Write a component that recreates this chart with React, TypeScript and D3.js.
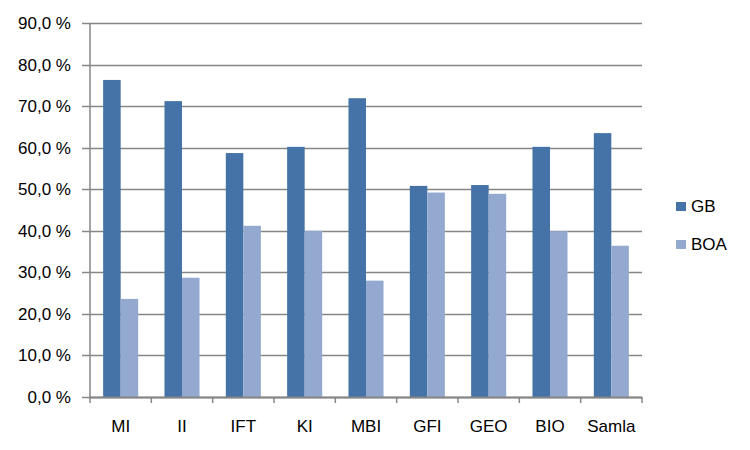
import React from "react";
import * as d3 from "d3";

const categories = ["MI", "II", "IFT", "KI", "MBI", "GFI", "GEO", "BIO", "Samla"];
const seriesNames = ["GB", "BOA"];
const gbValues = [76.3, 71.2, 58.7, 60.2, 71.9, 50.8, 51.0, 60.2, 63.5];
const boaValues = [23.6, 28.7, 41.2, 40.0, 28.0, 49.2, 48.9, 39.9, 36.4];
const yTicks = [0, 10, 20, 30, 40, 50, 60, 70, 80, 90];
const colors = ["#4572A7", "#93A9D0"];

const W = 750;
const H = 450;
const left = 90;
const right = 642;
const top = 23;
const bottom = 397;
const font = "'Liberation Sans', Arial, sans-serif";

export default function App() {
  const x = d3.scaleBand<string>().domain(categories).range([left, right]).paddingInner(0).paddingOuter(0);
  const y = d3.scaleLinear().domain([0, 90]).range([bottom, top]);
  const bw = x.bandwidth();
  const barW = bw / 3.5;
  const groupOffset = (bw - 2 * barW) / 2;
  const series = [gbValues, boaValues];
  const fmt = (v: number) => v.toFixed(1).replace(".", ",") + " %";

  return (
    <svg width={W} height={H} style={{ position: "absolute", left: 0, top: 0, background: "#fff" }}>
      {yTicks.map((t) => (
        <g key={t}>
          <line x1={left - 8} x2={right} y1={Math.round(y(t)) + 0.5} y2={Math.round(y(t)) + 0.5} stroke="#868686" strokeWidth={1.5} />
          <text x={71} y={y(t) + 6} textAnchor="end" fontFamily={font} fontSize={17} fill="#000">
            {fmt(t)}
          </text>
        </g>
      ))}
      {series.map((vals, si) =>
        vals.map((v, i) => (
          <rect
            key={si + "-" + i}
            x={(x(categories[i]) as number) + groupOffset + si * barW}
            y={y(v)}
            width={barW}
            height={bottom - y(v)}
            fill={colors[si]}
          />
        ))
      )}
      <line x1={left} x2={left} y1={top} y2={bottom + 1} stroke="#868686" strokeWidth={1.5} />
      <line x1={left} x2={right} y1={bottom + 0.5} y2={bottom + 0.5} stroke="#868686" strokeWidth={2} />
      {categories.map((c, i) => (
        <line key={"t" + i} x1={x(c) as number} x2={x(c) as number} y1={bottom} y2={bottom + 6} stroke="#868686" strokeWidth={1.5} />
      ))}
      <line x1={right} x2={right} y1={bottom} y2={bottom + 6} stroke="#868686" strokeWidth={1.5} />
      {categories.map((c) => (
        <text key={"l" + c} x={(x(c) as number) + bw / 2} y={432} textAnchor="middle" fontFamily={font} fontSize={17} fill="#000">
          {c}
        </text>
      ))}
      {seriesNames.map((s, i) => (
        <g key={s}>
          <rect x={676} y={202 + i * 38} width={10} height={9} fill={colors[i]} />
          <text x={691} y={212 + i * 38} fontFamily={font} fontSize={17} fill="#000">
            {s}
          </text>
        </g>
      ))}
    </svg>
  );
}
